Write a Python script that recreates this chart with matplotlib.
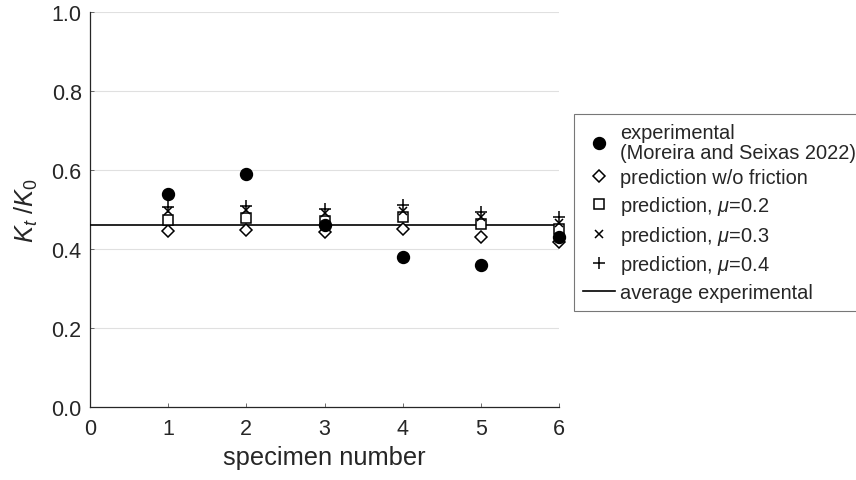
import matplotlib
matplotlib.use("Agg")
import matplotlib.pyplot as plt
import numpy as np

plt.rcParams['font.family'] = ['Liberation Sans', 'DejaVu Sans']
plt.rcParams['mathtext.fontset'] = 'custom'
plt.rcParams['mathtext.rm'] = 'Liberation Sans'
plt.rcParams['mathtext.it'] = 'Liberation Sans:italic'

specimen = [1, 2, 3, 4, 5, 6]
experimental = [0.54, 0.59, 0.46, 0.38, 0.36, 0.43]
pred_no_friction = [0.446, 0.449, 0.442, 0.450, 0.430, 0.417]
pred_mu02 = [0.474, 0.478, 0.472, 0.480, 0.463, 0.450]
pred_mu03 = [0.497, 0.500, 0.490, 0.497, 0.480, 0.467]
pred_mu04 = [0.506, 0.510, 0.501, 0.511, 0.493, 0.480]
average_experimental = float(np.mean(experimental))

xticks = [0, 1, 2, 3, 4, 5, 6]
yticks = [0.0, 0.2, 0.4, 0.6, 0.8, 1.0]

W, H = 856, 481
fig = plt.figure(figsize=(W / 100, H / 100), dpi=100)
ax = fig.add_axes([90 / W, 1 - 408 / H, (559 - 90) / W, (408 - 13) / H])

txt = '#262626'
ax.plot(specimen, experimental, 'o', color='black', ms=8.6, ls='none',
        label='experimental\n(Moreira and Seixas 2022)', zorder=5, clip_on=False)
ax.plot(specimen, pred_no_friction, 'D', mfc='white', mec='black', mew=1.1, ms=6.4,
        ls='none', label='prediction w/o friction', zorder=4, clip_on=False)
ax.plot(specimen, pred_mu02, 's', mfc='white', mec='black', mew=1.1, ms=7.0,
        ls='none', label=r'prediction, $\mu$=0.2', zorder=4, clip_on=False)
ax.plot(specimen, pred_mu03, 'x', color='black', mew=1.1, ms=6.0,
        ls='none', label=r'prediction, $\mu$=0.3', zorder=4, clip_on=False)
ax.plot(specimen, pred_mu04, '+', color='black', mew=1.1, ms=8.5,
        ls='none', label=r'prediction, $\mu$=0.4', zorder=4, clip_on=False)
ax.axhline(average_experimental, color='black', lw=1.2, label='average experimental', zorder=3)

ax.set_xlim(0, 6)
ax.set_ylim(0, 1)
ax.set_xticks(xticks)
ax.set_yticks(yticks)
ax.set_yticklabels([f'{v:.1f}' for v in yticks])
ax.yaxis.grid(True, color='#e0e0e0', lw=0.8)
ax.set_axisbelow(True)
for s in ['top', 'right']:
    ax.spines[s].set_visible(False)
for s in ['left', 'bottom']:
    ax.spines[s].set_color(txt)
    ax.spines[s].set_linewidth(0.9)
ax.tick_params(direction='in', length=3, width=0.6, color='#555555',
               labelsize=15.5, labelcolor=txt)
ax.tick_params(axis='x', pad=8)
ax.tick_params(axis='y', pad=6)
ax.set_xlabel('specimen number', fontsize=18.4, color=txt, labelpad=4)
ax.set_ylabel(r'$K_t$ /$K_0$', fontsize=18.4, color=txt, labelpad=8)

leg = fig.legend(loc='upper left', bbox_to_anchor=(574 / W, 1 - 115 / H),
                 bbox_transform=fig.transFigure, borderaxespad=0,
                 fontsize=14.4, frameon=True, fancybox=False, edgecolor='#555555',
                 borderpad=0.45, handlelength=1.6, handletextpad=0.25,
                 labelspacing=0.33)
leg.get_frame().set_linewidth(0.8)
for t in leg.get_texts():
    t.set_color(txt)
    t.set_linespacing(1.05)

fig.savefig('out.png', dpi=100)
